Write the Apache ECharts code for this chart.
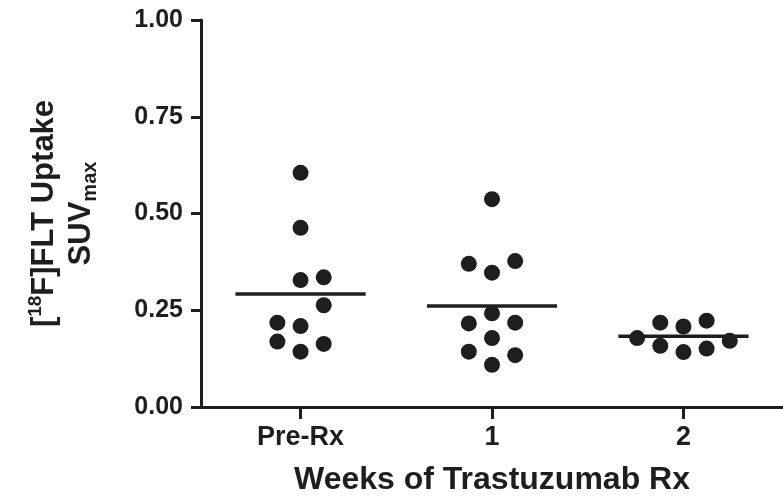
<!DOCTYPE html>
<html>
<head>
<meta charset="utf-8">
<script src="https://cdn.jsdelivr.net/npm/echarts@6/dist/echarts.min.js"></script>
<style>
  html, body { margin: 0; padding: 0; background: #fff; }
  #main { width: 783px; height: 502px; }
</style>
</head>
<body>
<div id="main"></div>
<script>
var categories = ['Pre-Rx', '1', '2'];

// SUVmax values, with the column slot each dot sits in
var preRxValues = [0.605, 0.463, 0.328, 0.335, 0.263, 0.218, 0.209, 0.169, 0.163, 0.143];
var preRxSlots  = [0, 0, 0, 1, 1, -1, 0, -1, 1, 0];
var week1Values = [0.537, 0.370, 0.347, 0.377, 0.242, 0.216, 0.218, 0.178, 0.143, 0.134, 0.109];
var week1Slots  = [0, -1, 0, 1, 0, -1, 1, 0, -1, 1, 0];
var week2Values = [0.178, 0.218, 0.208, 0.223, 0.171, 0.158, 0.142, 0.151];
var week2Slots  = [-2, -1, 0, 1, 2, -1, 0, 1];

var groupMeans = [0.292, 0.261, 0.183];

var ink = '#1e1e1e';
var font = 'Liberation Sans';
var slotWidth = 0.121;
var meanHalf = 0.34;

function dots(groupIndex, values, slots) {
    return values.map(function (v, i) {
        return [groupIndex + slots[i] * slotWidth, v];
    });
}

drawP();

function drawP(){
    var myChart = echarts.init(document.getElementById('main'));
    var groups = [
        dots(0, preRxValues, preRxSlots),
        dots(1, week1Values, week1Slots),
        dots(2, week2Values, week2Slots)
    ];

    var series = [];
    groups.forEach(function (g) {
        series.push({
            type: 'scatter',
            data: g,
            symbol: 'circle',
            symbolSize: 16,
            itemStyle: { color: ink, opacity: 1 },
            silent: true
        });
    });
    groupMeans.forEach(function (m, i) {
        series.push({
            type: 'line',
            data: [[i - meanHalf, m], [i + meanHalf, m]],
            symbol: 'none',
            lineStyle: { color: ink, width: 3.5 },
            silent: true,
            z: 1
        });
    });

    var option = {
        animation: false,
        grid: {
            left: 201,
            right: 0,
            top: 20,
            bottom: 95,
            containLabel: false,
            outerBoundsMode: 'none'
        },
        xAxis: {
            type: 'value',
            min: -0.52,
            max: 2.52,
            name: 'Weeks of Trastuzumab Rx',
            nameLocation: 'middle',
            nameGap: 57,
            nameTextStyle: {
                fontFamily: font,
                fontWeight: 'bold',
                fontSize: 32,
                color: ink
            },
            splitLine: { show: false },
            axisLine: { lineStyle: { color: ink, width: 3 } },
            axisTick: {
                customValues: [0, 1, 2],
                length: 12,
                lineStyle: { color: ink, width: 3 }
            },
            axisLabel: {
                customValues: [0, 1, 2],
                margin: 17,
                fontFamily: font,
                fontWeight: 'bold',
                fontSize: 27,
                color: ink,
                formatter: function (v) { return categories[Math.round(v)]; }
            }
        },
        yAxis: {
            type: 'value',
            min: 0,
            max: 1,
            interval: 0.25,
            name: '{b|[}{sup|18}{b|F]FLT Uptake}\n{b|SUV}{sub|max}',
            nameLocation: 'middle',
            nameRotate: 90,
            nameGap: 101,
            nameTextStyle: {
                fontFamily: font,
                fontWeight: 'bold',
                fontSize: 31,
                color: ink,
                rich: {
                    b: { fontFamily: font, fontWeight: 'bold', fontSize: 31, color: ink, lineHeight: 37 },
                    sup: { fontFamily: font, fontWeight: 'bold', fontSize: 19, color: ink, lineHeight: 19, verticalAlign: 'top' },
                    sub: { fontFamily: font, fontWeight: 'bold', fontSize: 20, color: ink, lineHeight: 20, verticalAlign: 'bottom' }
                }
            },
            splitLine: { show: false },
            axisLine: { show: true, onZero: false, lineStyle: { color: ink, width: 3 } },
            axisTick: { show: true, length: 10, lineStyle: { color: ink, width: 3 } },
            axisLabel: {
                margin: 18,
                fontFamily: font,
                fontWeight: 'bold',
                fontSize: 25,
                color: ink,
                formatter: function (v) { return v.toFixed(2); }
            }
        },
        series: series
    };

    myChart.setOption(option);
}
</script>
</body>
</html>
